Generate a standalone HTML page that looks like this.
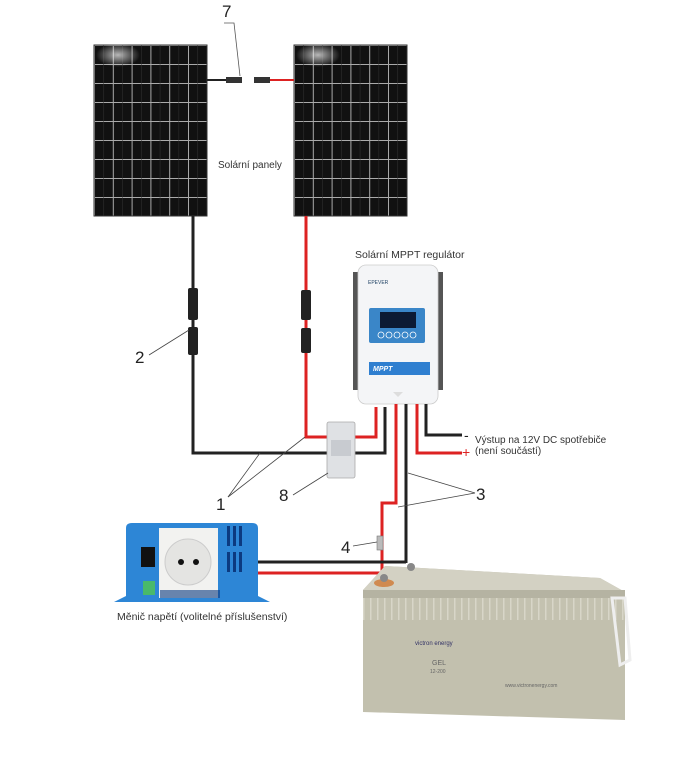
<!DOCTYPE html>
<html><head><meta charset="utf-8"><style>
html,body{margin:0;padding:0;background:#fff;}
svg{display:block;}
text{font-family:"Liberation Sans",sans-serif;}
</style></head><body>
<svg width="680" height="776" viewBox="0 0 680 776" xmlns="http://www.w3.org/2000/svg">
<defs>
<pattern id="cells" x="94" y="45" width="18.8" height="19" patternUnits="userSpaceOnUse">
<rect width="18.8" height="19" fill="#111"/>
<rect x="0" y="0" width="1" height="19" fill="#aaa"/>
<rect x="0" y="0" width="18.8" height="1" fill="#aaa"/>
<rect x="9.4" y="0" width="0.5" height="19" fill="#333"/>
</pattern>
<pattern id="cells2" x="294" y="45" width="18.8" height="19" patternUnits="userSpaceOnUse">
<rect width="18.8" height="19" fill="#111"/>
<rect x="0" y="0" width="1" height="19" fill="#aaa"/>
<rect x="0" y="0" width="18.8" height="1" fill="#aaa"/>
<rect x="9.4" y="0" width="0.5" height="19" fill="#333"/>
</pattern>
<pattern id="ribs" x="363" y="598" width="7" height="20" patternUnits="userSpaceOnUse">
<rect width="7" height="20" fill="#c4c2b0"/><rect width="1.5" height="20" fill="#d8d6c8"/>
</pattern>
<radialGradient id="glare" cx="0.5" cy="0.5" r="0.5"><stop offset="0" stop-color="#fff" stop-opacity="0.7"/><stop offset="1" stop-color="#fff" stop-opacity="0"/></radialGradient>
</defs>

<rect x="94" y="45" width="113" height="171" fill="url(#cells)" stroke="#333" stroke-width="1"/>
<rect x="294" y="45" width="113" height="171" fill="url(#cells2)" stroke="#333" stroke-width="1"/>
<ellipse cx="118" cy="55" rx="22" ry="12" fill="url(#glare)"/>
<ellipse cx="318" cy="55" rx="22" ry="12" fill="url(#glare)"/>

<line x1="207" y1="80" x2="228" y2="80" stroke="#222" stroke-width="2"/>
<rect x="226" y="77" width="16" height="6" fill="#333"/>
<rect x="254" y="77" width="16" height="6" fill="#333"/>
<line x1="270" y1="80" x2="294" y2="80" stroke="#d22" stroke-width="2"/>
<text x="222" y="17" font-size="17" fill="#222">7</text>
<polyline points="224,23 234,23 240,76" fill="none" stroke="#555" stroke-width="0.8"/>
<text x="218" y="168" font-size="10" fill="#333">Solární panely</text>

<polyline points="193,216 193,453 385,453 385,407" fill="none" stroke="#222" stroke-width="3"/>
<polyline points="306,216 306,437 376,437 376,407" fill="none" stroke="#d22" stroke-width="3"/>
<rect x="188" y="288" width="10" height="32" rx="2" fill="#222"/>
<rect x="188" y="327" width="10" height="28" rx="2" fill="#222"/>
<rect x="301" y="290" width="10" height="30" rx="2" fill="#222"/>
<rect x="301" y="328" width="10" height="25" rx="2" fill="#222"/>

<rect x="327" y="422" width="28" height="56" rx="2" fill="#dfe1e4" stroke="#aaa" stroke-width="0.8"/>
<rect x="331" y="440" width="20" height="16" fill="#c8cbd0"/>

<rect x="353" y="272" width="8" height="118" fill="#555"/>
<rect x="435" y="272" width="8" height="118" fill="#555"/>
<rect x="358" y="265" width="80" height="139" rx="8" fill="#f4f5f7" stroke="#ccc" stroke-width="0.8"/>
<rect x="369" y="308" width="56" height="35" rx="2" fill="#3a86c8"/>
<rect x="380" y="312" width="36" height="16" fill="#0c1a33"/>
<g fill="none" stroke="#fff" stroke-width="0.8"><circle cx="381" cy="335" r="3"/><circle cx="389" cy="335" r="3"/><circle cx="397" cy="335" r="3"/><circle cx="405" cy="335" r="3"/><circle cx="413" cy="335" r="3"/></g>
<rect x="369" y="362" width="61" height="13" fill="#2f7fd0"/>
<text x="373" y="371" font-size="7" font-style="italic" font-weight="bold" fill="#fff">MPPT</text>
<text x="368" y="284" font-size="5" fill="#246">EPEVER</text>
<polygon points="393,392 403,392 398,397" fill="#ddd"/>
<text x="355" y="258" font-size="10.5" fill="#333">Solární MPPT regulátor</text>

<polyline points="396,404 396,503 382,503 382,573" fill="none" stroke="#d22" stroke-width="3"/>
<polyline points="406,404 406,563" fill="none" stroke="#222" stroke-width="3"/>
<polyline points="417,404 417,453 462,453" fill="none" stroke="#d22" stroke-width="3"/>
<polyline points="426,404 426,435 462,435" fill="none" stroke="#222" stroke-width="3"/>
<text x="464" y="440" font-size="14" fill="#222">-</text>
<text x="462" y="457" font-size="14" fill="#d22">+</text>
<text x="475" y="443" font-size="10" fill="#333">Výstup na 12V DC spotřebiče</text>
<text x="475" y="454" font-size="10" fill="#333">(není součástí)</text>

<line x1="248" y1="562" x2="406" y2="562" stroke="#222" stroke-width="3"/>
<line x1="248" y1="573" x2="382" y2="573" stroke="#d22" stroke-width="3"/>
<rect x="377" y="536" width="6" height="14" fill="#bbb" stroke="#777" stroke-width="0.6"/>

<text x="476" y="500" font-size="17" fill="#222">3</text>
<line x1="475" y1="493" x2="408" y2="473" stroke="#444" stroke-width="0.8"/>
<line x1="475" y1="493" x2="398" y2="507" stroke="#444" stroke-width="0.8"/>
<text x="216" y="510" font-size="17" fill="#222">1</text>
<line x1="228" y1="497" x2="260" y2="453" stroke="#444" stroke-width="0.8"/>
<line x1="228" y1="497" x2="305" y2="437" stroke="#444" stroke-width="0.8"/>
<text x="135" y="363" font-size="17" fill="#222">2</text>
<line x1="149" y1="355" x2="189" y2="330" stroke="#444" stroke-width="0.8"/>
<text x="279" y="501" font-size="17" fill="#222">8</text>
<line x1="293" y1="495" x2="328" y2="473" stroke="#444" stroke-width="0.8"/>
<text x="341" y="553" font-size="17" fill="#222">4</text>
<line x1="353" y1="546" x2="377" y2="542" stroke="#444" stroke-width="0.8"/>

<path d="M114,602 L126,596 L126,528 Q126,523 132,523 L252,523 Q258,523 258,528 L258,596 L270,602 Z" fill="#2d86d6"/>
<rect x="159" y="528" width="59" height="70" fill="#f2f2f0"/>
<circle cx="188" cy="562" r="23" fill="#e4e4e2" stroke="#ccc"/>
<circle cx="181" cy="562" r="3" fill="#111"/><circle cx="196" cy="562" r="3" fill="#111"/>
<rect x="141" y="547" width="14" height="20" fill="#111"/>
<rect x="143" y="581" width="12" height="14" fill="#49b96b"/>
<g fill="#0c3a80"><rect x="227" y="552" width="3" height="20"/><rect x="233" y="552" width="3" height="20"/><rect x="239" y="552" width="3" height="20"/><rect x="227" y="526" width="3" height="20"/><rect x="233" y="526" width="3" height="20"/><rect x="239" y="526" width="3" height="20"/>
<rect x="160" y="590" width="60" height="8" opacity="0.6"/></g>
<text x="117" y="620" font-size="10.5" fill="#333">Měnič napětí (volitelné příslušenství)</text>

<polygon points="363,590 385,566 600,578 625,592 625,720 363,712" fill="#c2c0ae"/>
<polygon points="363,590 385,566 600,578 625,592" fill="#d3d1c3"/>
<rect x="363" y="590" width="262" height="8" fill="#b5b3a2"/>
<rect x="363" y="598" width="262" height="22" fill="url(#ribs)"/>
<path d="M612,598 L625,598 L630,660 L620,665 Z" fill="none" stroke="#eee" stroke-width="3"/>
<ellipse cx="384" cy="583" rx="10" ry="4" fill="#d08a50"/>
<circle cx="384" cy="578" r="4" fill="#888"/>
<circle cx="411" cy="567" r="4" fill="#888"/>
<text x="415" y="645" font-size="6" fill="#336">victron energy</text>
<text x="432" y="665" font-size="7" fill="#666">GEL</text>
<text x="430" y="673" font-size="5" fill="#666">12-200</text>
<text x="505" y="687" font-size="5" fill="#666">www.victronenergy.com</text>
</svg>
</body></html>
